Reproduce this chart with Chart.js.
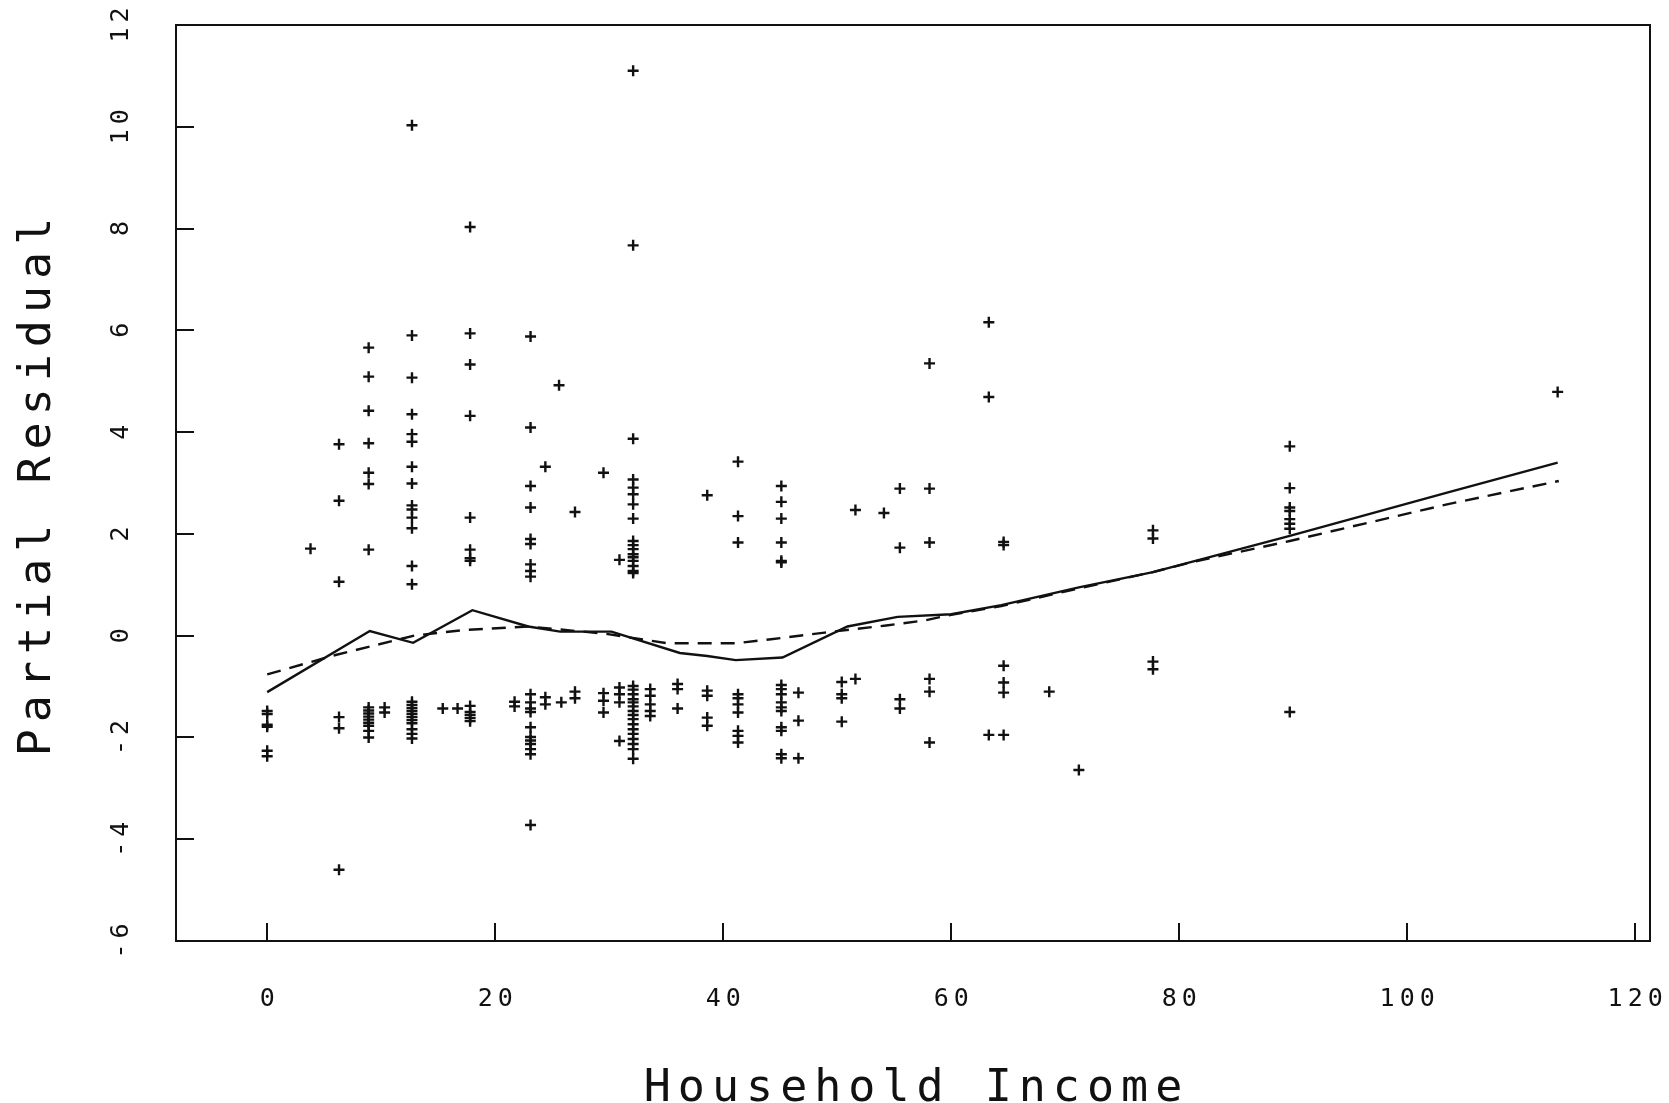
<!DOCTYPE html>
<html>
<head>
<meta charset="utf-8">
<title>Partial Residual by Household Income</title>
<script src="https://cdn.jsdelivr.net/npm/chart.js@4.4.1/dist/chart.umd.min.js"></script>
<style>
  html, body { margin: 0; padding: 0; background: #fff; }
  canvas { display: block; }
</style>
</head>
<body>
<canvas id="residualChart" width="1669" height="1103"></canvas>
<script>
// Axis ticks
const xTicks = [0, 20, 40, 60, 80, 100, 120];
const yTicks = [-6, -4, -2, 0, 2, 4, 6, 8, 10, 12];

// Income levels and the partial residuals recorded at each one
const incomeLevels = [
  0, 3.8, 6.3, 8.9, 10.3, 12.7, 15.4, 16.7, 17.8, 21.7, 23.1, 24.4, 25.6, 25.8,
  27.0, 29.5, 30.9, 32.1, 33.6, 36.0, 38.6, 41.3, 45.1, 46.6, 50.4, 51.6, 54.1,
  55.5, 58.1, 63.3, 64.6, 68.6, 71.2, 77.7, 89.7, 113.2,
];
const residualsByLevel = [
  [-1.48, -1.54, -1.75, -1.79, -2.26, -2.37],
  [1.71],
  [3.76, 2.65, 1.06, -1.6, -1.82, -4.6],
  [5.66, 5.09, 4.42, 3.78, 3.2, 2.98, 1.69, -1.41, -1.47, -1.53, -1.59, -1.65, -1.71, -1.77, -1.87, -2.0],
  [-1.41, -1.51],
  [10.03, 5.9, 5.07, 4.35, 3.96, 3.81, 3.32, 2.99, 2.56, 2.48, 2.32, 2.11, 1.37, 1.01,
   -1.3, -1.36, -1.42, -1.48, -1.54, -1.6, -1.66, -1.72, -1.84, -1.93, -2.02],
  [-1.43],
  [-1.43],
  [8.03, 5.94, 5.33, 4.32, 2.32, 1.69, 1.52, 1.47, -1.38, -1.5, -1.56, -1.62, -1.68],
  [-1.3, -1.39],
  [5.88, 4.09, 2.94, 2.52, 1.9, 1.8, 1.4, 1.27, 1.16,
   -1.15, -1.31, -1.43, -1.5, -1.8, -1.99, -2.06, -2.13, -2.23, -2.33, -3.72],
  [3.32, -1.21, -1.35],
  [4.92],
  [-1.31],
  [2.43, -1.1, -1.23],
  [3.2, -1.13, -1.28, -1.51],
  [1.49, -1.02, -1.15, -1.31, -2.07],
  [11.1, 7.67, 3.87, 3.07, 2.91, 2.78, 2.58, 2.3, 1.86, 1.78, 1.7, 1.6, 1.54, 1.47, 1.37, 1.27, 1.23,
   -0.99, -1.06, -1.15, -1.25, -1.31, -1.39, -1.48, -1.56, -1.64, -1.74, -1.84, -1.93, -2.03, -2.13, -2.23, -2.42],
  [-1.05, -1.18, -1.35, -1.48, -1.58],
  [-0.95, -1.05, -1.43],
  [2.76, -1.08, -1.18, -1.61, -1.77],
  [3.42, 2.35, 1.83, -1.15, -1.23, -1.35, -1.51, -1.87, -1.97, -2.1],
  [2.94, 2.63, 2.3, 1.83, 1.47, 1.44, -0.97, -1.05, -1.15, -1.31, -1.41, -1.48, -1.8, -1.87, -2.33, -2.41],
  [-1.12, -1.67, -2.41],
  [-0.91, -1.15, -1.23, -1.69],
  [2.47, -0.85],
  [2.41],
  [2.89, 1.73, -1.25, -1.43],
  [5.35, 2.89, 1.83, -0.85, -1.1, -2.1],
  [6.16, 4.69, -1.95],
  [1.84, 1.78, -0.59, -0.92, -1.12, -1.95],
  [-1.1],
  [-2.64],
  [2.07, 1.91, -0.51, -0.66],
  [3.72, 2.9, 2.52, 2.45, 2.29, 2.2, 2.1, -1.5],
  [4.79],
];

// Smoothed curve (solid)
const smoothIncome = [0, 9.0, 12.8, 18.0, 22.9, 25.7, 30.2, 36.2, 38.6, 41.1, 45.2, 50.9, 55.3, 60.0, 64.4, 71.2, 77.7, 89.7, 103.5, 113.2];
const smoothResidual = [-1.11, 0.09, -0.14, 0.5, 0.18, 0.08, 0.08, -0.34, -0.4, -0.48, -0.43, 0.18, 0.37, 0.42, 0.6, 0.95, 1.25, 1.96, 2.81, 3.4];

// Fitted curve (dashed)
const fitIncome = [0, 6.0, 12.9, 17.2, 22.9, 29.6, 35.1, 41.1, 44.2, 48.9, 54.3, 57.7, 60.0, 64.4, 71.2, 77.7, 81.2, 89.7, 103.5, 113.3];
const fitResidual = [-0.76, -0.38, 0.0, 0.11, 0.18, 0.04, -0.15, -0.15, -0.07, 0.06, 0.2, 0.3, 0.41, 0.58, 0.93, 1.25, 1.45, 1.86, 2.58, 3.04];

const FONT = '"DejaVu Sans Mono", "Liberation Mono", monospace';
const INK = "#111";

function toPoints(xs, ys) {
  return xs.map((x, i) => ({ x: x, y: ys[i] }));
}

let residualPoints = [];
incomeLevels.forEach((x, i) => {
  residualsByLevel[i].forEach((y) => residualPoints.push({ x: x, y: y }));
});

// **Box frame, inward ticks, tick labels and axis titles**
const framePlugin = {
  id: "frame",
  afterDatasetsDraw(chart) {
    const ctx = chart.ctx;
    const area = chart.chartArea;
    const xs = chart.scales.x;
    const ys = chart.scales.y;

    ctx.save();
    ctx.strokeStyle = INK;
    ctx.lineWidth = 2;
    ctx.strokeRect(area.left, area.top, area.right - area.left, area.bottom - area.top);

    // ticks point into the plot
    ctx.beginPath();
    xTicks.forEach((v) => {
      const px = Math.round(xs.getPixelForValue(v));
      ctx.moveTo(px, area.bottom);
      ctx.lineTo(px, area.bottom - 18);
    });
    yTicks.forEach((v) => {
      const py = Math.round(ys.getPixelForValue(v));
      ctx.moveTo(area.left, py);
      ctx.lineTo(area.left + 18, py);
    });
    ctx.stroke();

    ctx.fillStyle = INK;
    ctx.textAlign = "center";
    ctx.textBaseline = "middle";
    ctx.font = "25px " + FONT;
    ctx.letterSpacing = "5px";
    xTicks.forEach((v) => {
      ctx.fillText(String(v), xs.getPixelForValue(v) + 2.5, area.bottom + 58);
    });
    yTicks.forEach((v) => {
      ctx.save();
      ctx.translate(area.left - 55, ys.getPixelForValue(v));
      ctx.rotate(-Math.PI / 2);
      ctx.fillText(String(v), 2.5, 0);
      ctx.restore();
    });

    ctx.font = "45px " + FONT;
    ctx.letterSpacing = "7px";
    ctx.textBaseline = "alphabetic";
    ctx.fillText("Household Income", (area.left + area.right) / 2 + 3.5, area.bottom + 160);
    ctx.save();
    ctx.translate(area.left - 126, (area.top + area.bottom) / 2 + 4);
    ctx.rotate(-Math.PI / 2);
    ctx.fillText("Partial Residual", 3.5, 0);
    ctx.restore();
    ctx.restore();
  },
};

const residualChart = new Chart(document.getElementById("residualChart"), {
  type: "scatter",
  data: {
    datasets: [
      {
        label: "Partial residual",
        data: residualPoints,
        showLine: false,
        pointStyle: "cross",
        pointRadius: 5.5,
        pointBorderWidth: 2.4,
        borderColor: INK,
        backgroundColor: INK,
      },
      {
        label: "Smooth",
        data: toPoints(smoothIncome, smoothResidual),
        showLine: true,
        borderColor: INK,
        borderWidth: 2.4,
        pointRadius: 0,
        fill: false,
      },
      {
        label: "Fit",
        data: toPoints(fitIncome, fitResidual),
        showLine: true,
        borderColor: INK,
        borderWidth: 2.4,
        borderDash: [14, 9],
        pointRadius: 0,
        fill: false,
      },
    ],
  },
  options: {
    responsive: false,
    animation: false,
    devicePixelRatio: 1,
    layout: { padding: { top: 25, right: 19, left: 0, bottom: 0 } },
    plugins: { legend: { display: false }, tooltip: { enabled: false } },
    scales: {
      x: {
        type: "linear",
        min: -8,
        max: 121.3,
        ticks: { display: false },
        grid: { display: false },
        border: { display: false },
        afterFit: (scale) => { scale.height = 162; },
      },
      y: {
        type: "linear",
        min: -6,
        max: 12,
        ticks: { display: false },
        grid: { display: false },
        border: { display: false },
        afterFit: (scale) => { scale.width = 176; },
      },
    },
  },
  plugins: [framePlugin],
});
</script>
</body>
</html>
